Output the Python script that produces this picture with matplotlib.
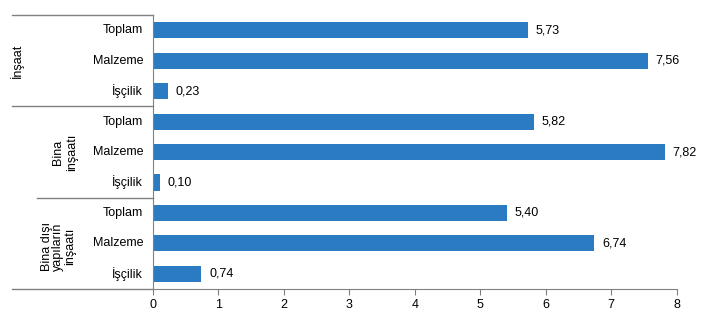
import matplotlib.pyplot as plt
from matplotlib.transforms import blended_transform_factory

plt.rcParams['font.family'] = ['Liberation Sans', 'DejaVu Sans']

# data
groups = ['İnşaat', 'Bina\ninşaatı', 'Bina dışı\nyapıların\ninşaatı']
items = ['Toplam', 'Malzeme', 'İşçilik']
values = [5.73, 7.56, 0.23,
          5.82, 7.82, 0.10,
          5.40, 6.74, 0.74]

color = '#2A7BC2'
gray = '#808080'

fig = plt.figure(figsize=(7.02, 3.27), dpi=100)
ax = fig.add_axes([0.218, 0.116, 0.746, 0.838])

pos = list(range(len(values)))
ax.barh(pos, values, height=0.53, color=color)
ax.set_ylim(8.5, -0.5)
ax.set_xlim(0, 8)
ax.set_xticks(range(9))
ax.set_yticks([])

for p, v in zip(pos, values):
    ax.text(v + 0.12, p, f'{v:.2f}'.replace('.', ','), va='center', ha='left', fontsize=9)

for p in pos:
    ax.text(-0.15, p, items[p % 3], va='center', ha='right', fontsize=9)

for s in ['top', 'right']:
    ax.spines[s].set_visible(False)
for s in ['left', 'bottom']:
    ax.spines[s].set_color(gray)
ax.tick_params(axis='x', colors=gray, labelcolor='black', labelsize=9, length=4, direction='out')

tr = blended_transform_factory(ax.transAxes, ax.transData)
ax.plot([-0.269, 0], [-0.5, -0.5], color=gray, lw=1, transform=tr, clip_on=False)
ax.plot([-0.269, 0], [2.5, 2.5], color=gray, lw=1, transform=tr, clip_on=False)
ax.plot([-0.221, 0], [5.5, 5.5], color=gray, lw=1, transform=tr, clip_on=False)
ax.plot([-0.269, 0], [8.5, 8.5], color=gray, lw=1, transform=tr, clip_on=False)

group_x = [-0.260, -0.168, -0.181]
group_sp = [0.95, 1.15, 0.95]
group_y = [1, 4, 7.1]
for i, g in enumerate(groups):
    ax.text(group_x[i], group_y[i], g, rotation=90, va='center', ha='center',
            fontsize=9, transform=tr, linespacing=group_sp[i], multialignment='center')

fig.savefig('out.png', dpi=100)
